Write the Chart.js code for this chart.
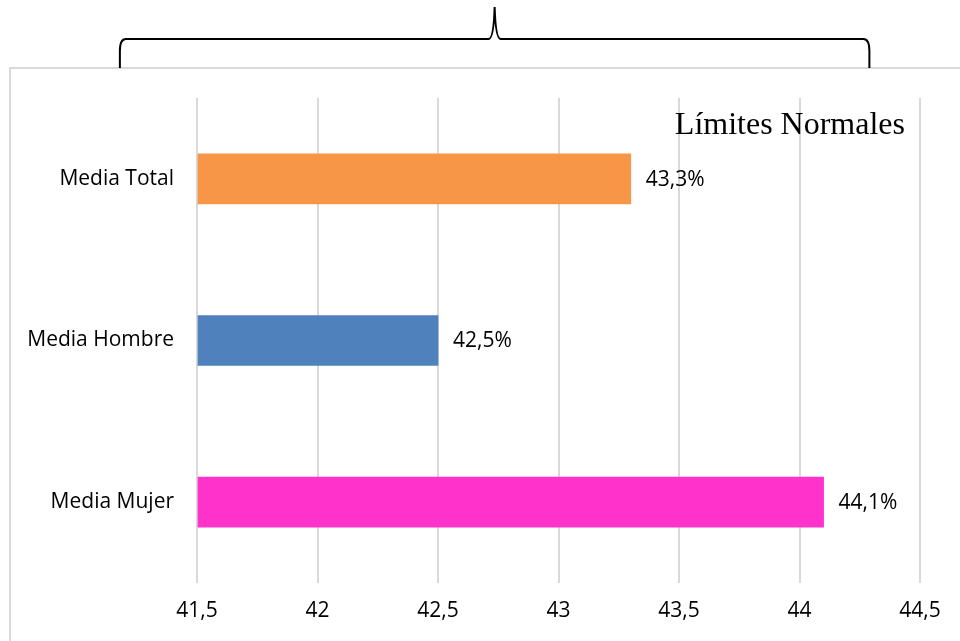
<!DOCTYPE html>
<html>
<head>
<meta charset="utf-8">
<script src="https://cdn.jsdelivr.net/npm/chart.js@4/dist/chart.umd.min.js"></script>
<style>
  html, body { margin: 0; padding: 0; background: #fff; }
  #wrap { width: 960px; height: 641px; }
</style>
</head>
<body>
<div id="wrap"><canvas id="chart"></canvas></div>
<script>

/* Data */
const categories = ["Media Total", "Media Hombre", "Media Mujer"];
const values = [43.3, 42.5, 44.1];
const valueLabels = ["43,3%", "42,5%", "44,1%"];
const barColors = ["#F79646", "#4F81BD", "#FF33CC"];
const xTickLabels = ["41,5", "42", "42,5", "43", "43,5", "44", "44,5"];

/* Brace over the "normal limits", in axis units */
const braceFrom = 41.18;
const braceTo = 44.29;
const braceTitle = "Límites Normales";

const labelFont = { family: "'Open Sans', sans-serif", size: 21 };


/* Plugins */

const frame = {
  id: 'frame',
  beforeDraw(chart) {
    const ctx = chart.ctx;
    ctx.save();
    ctx.strokeStyle = '#d9d9d9';
    ctx.lineWidth = 2;
    ctx.strokeRect(10, 68, chart.width + 20, chart.height + 20);
    ctx.restore();
  }
};

const brace = {
  id: 'brace',
  afterDraw(chart) {
    const ctx = chart.ctx;
    const x = chart.scales.x;
    const l = x.getPixelForValue(braceFrom);
    const r = x.getPixelForValue(braceTo);
    const m = (l + r) / 2;
    const bottom = 68, mid = 39, tip = 7;
    ctx.save();
    ctx.strokeStyle = '#000';
    ctx.lineWidth = 2;
    ctx.beginPath();
    ctx.moveTo(l, bottom);
    ctx.lineTo(l, mid + 12);
    ctx.quadraticCurveTo(l, mid, l + 6, mid);
    ctx.lineTo(m - 6, mid);
    ctx.quadraticCurveTo(m - 1, mid, m, tip);
    ctx.quadraticCurveTo(m + 1, mid, m + 6, mid);
    ctx.lineTo(r - 6, mid);
    ctx.quadraticCurveTo(r, mid, r, mid + 12);
    ctx.lineTo(r, bottom);
    ctx.stroke();

    ctx.fillStyle = '#000';
    ctx.font = "32px 'Liberation Serif', 'Times New Roman', serif";
    ctx.textAlign = 'right';
    ctx.textBaseline = 'alphabetic';
    ctx.fillText(braceTitle, 905, 134);
    ctx.restore();
  }
};

const valueTags = {
  id: 'valueTags',
  afterDatasetsDraw(chart) {
    const ctx = chart.ctx;
    const meta = chart.getDatasetMeta(0);
    ctx.save();
    ctx.fillStyle = '#000';
    ctx.font = labelFont.size + "px " + labelFont.family;
    ctx.textAlign = 'left';
    ctx.textBaseline = 'middle';
    meta.data.forEach((bar, i) => {
      ctx.fillText(valueLabels[i], bar.x + 15, bar.y + 1);
    });
    ctx.restore();
  }
};


/* Chart */
const ctx = document.getElementById("chart").getContext("2d");

new Chart(ctx, {
  type: 'bar',
  data: {
    labels: categories,
    datasets: [{
      data: values,
      backgroundColor: barColors,
      borderWidth: 0,
      barThickness: 50,
      base: 41.5
    }]
  },
  options: {
    indexAxis: 'y',
    responsive: true,
    maintainAspectRatio: false,
    animation: false,
    layout: { padding: { top: 98, right: 40, left: 0, bottom: 0 } },
    plugins: {
      legend: { display: false },
      tooltip: { enabled: false }
    },
    scales: {
      x: {
        min: 41.5,
        max: 44.5,
        ticks: {
          stepSize: 0.5,
          color: '#000',
          font: labelFont,
          padding: 15,
          maxRotation: 0,
          callback: (v, i) => xTickLabels[i]
        },
        grid: { color: '#d9d9d9', lineWidth: 2, drawTicks: false },
        border: { display: false },
        afterFit(scale) { scale.height = 58; }
      },
      y: {
        ticks: {
          color: '#000',
          font: labelFont,
          padding: 23
        },
        grid: { display: false, drawTicks: false },
        border: { display: false },
        afterFit(scale) { scale.width = 197; }
      }
    }
  },
  plugins: [frame, valueTags, brace]
});
</script>
</body>
</html>
